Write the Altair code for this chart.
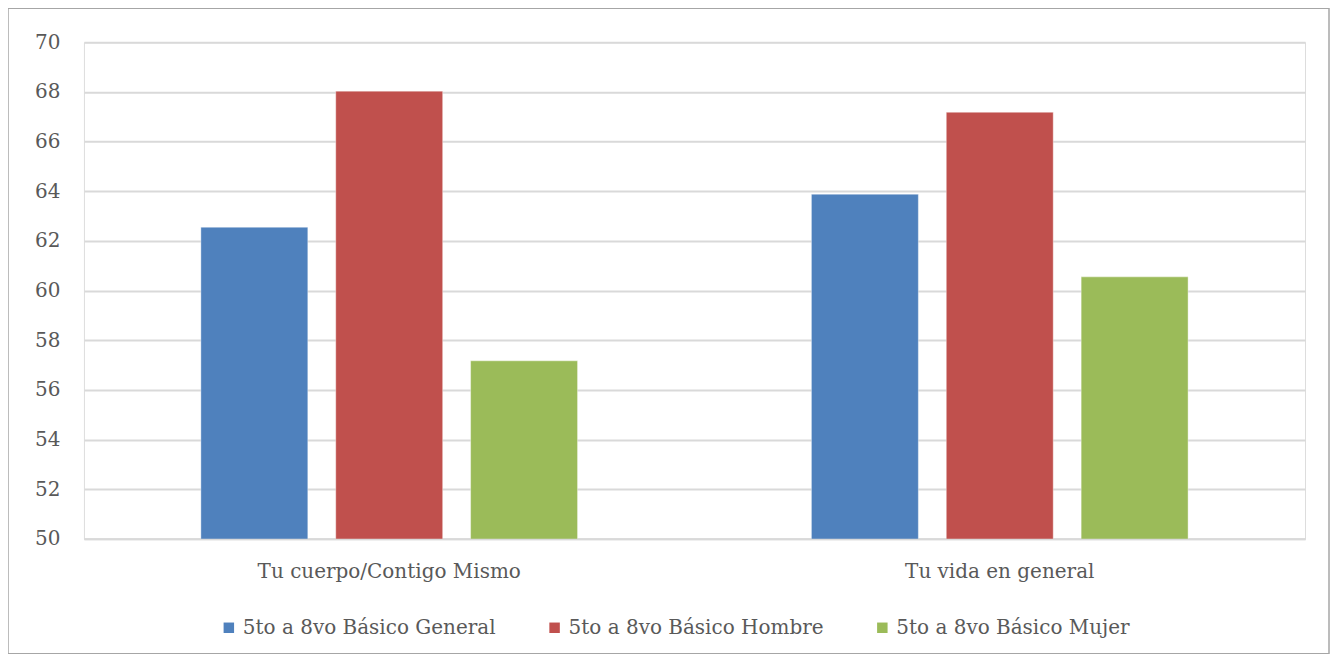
import altair as alt
import pandas as pd

categories = ["Tu cuerpo/Contigo Mismo", "Tu vida en general"]
series = ["5to a 8vo Básico General", "5to a 8vo Básico Hombre", "5to a 8vo Básico Mujer"]
general = [62.55, 63.88]
hombre = [68.03, 67.18]
mujer = [57.17, 60.55]
colors = ["#4F81BD", "#C0504D", "#9BBB59"]
y_ticks = [50, 52, 54, 56, 58, 60, 62, 64, 66, 68, 70]

rows = []
for s, vals in zip(series, [general, hombre, mujer]):
    for c, v in zip(categories, vals):
        rows.append({"cat": c, "serie": s, "valor": v})
df = pd.DataFrame(rows)

FONT = "DejaVu Serif"
TXT = "#595959"
FS = 20

bars = alt.Chart(df).mark_bar(clip=True, stroke="#ffffff", strokeOpacity=0.4, strokeWidth=1).encode(
    x=alt.X("cat:N", sort=categories, title=None,
            scale=alt.Scale(paddingInner=0, paddingOuter=0),
            axis=alt.Axis(labelAngle=0, labelFont=FONT, labelFontSize=FS, labelColor=TXT,
                          labelLimit=0, labelPadding=23, ticks=False, domain=True,
                          domainColor="#d9d9d9", domainWidth=2, grid=False)),
    xOffset=alt.XOffset("serie:N", sort=series,
                        scale=alt.Scale(paddingInner=0.207, paddingOuter=0.867)),
    y=alt.Y("valor:Q", title=None,
            scale=alt.Scale(domain=[50, 70], nice=False, zero=False),
            axis=alt.Axis(values=y_ticks, labelFont=FONT, labelFontSize=FS, labelColor=TXT,
                          labelPadding=24, ticks=False, domain=False, gridColor="#d9d9d9",
                          gridWidth=2)),
    color=alt.Color("serie:N", sort=series, scale=alt.Scale(domain=series, range=colors),
                    legend=alt.Legend(title=None, orient="none", direction="horizontal",
                                      legendX=135, legendY=576, symbolType="square",
                                      symbolSize=110, symbolStrokeWidth=0, labelFont=FONT,
                                      labelFontSize=FS, labelColor=TXT, labelOffset=4,
                                      labelLimit=0, columnPadding=48, columns=3)),
)

border = alt.Chart(pd.DataFrame({"k": [0]})).mark_rect(
    fill=None, stroke="#a6a6a6", strokeWidth=1.5, clip=False
).encode(x=alt.value(-76), x2=alt.value(1246), y=alt.value(-34), y2=alt.value(612))

chart = alt.layer(border, bars).properties(
    width=1222, height=497,
    autosize=alt.AutoSizeParams(type="none"),
    padding={"left": 76, "top": 34, "right": 25, "bottom": 115},
).configure_view(stroke=None).configure(background="white")

chart.save("out.html", embed_options={"renderer": "svg", "actions": False})
